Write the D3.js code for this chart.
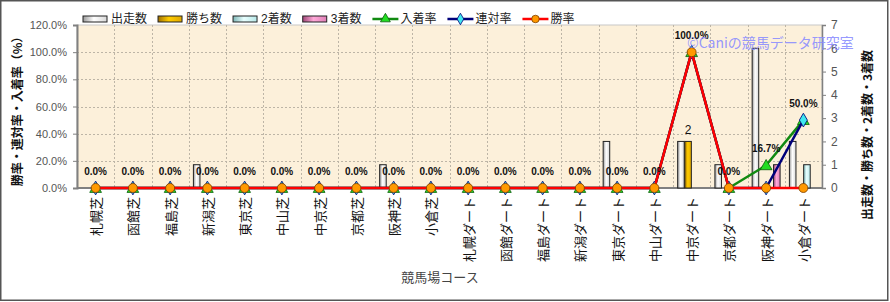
<!DOCTYPE html>
<html>
<head>
<meta charset="utf-8">
<script src="https://cdn.jsdelivr.net/npm/d3@7"></script>
<style>
  body { margin: 0; background: #fff; }
  text { font-family: "Liberation Sans", "Noto Sans CJK JP", sans-serif; }
  .jp { font-family: "Noto Sans CJK JP", sans-serif; }
</style>
</head>
<body>
<svg id="chart" width="890" height="302"></svg>
<script>
const categories = ['札幌芝', '函館芝', '福島芝', '新潟芝', '東京芝', '中山芝', '中京芝', '京都芝', '阪神芝', '小倉芝',
  '札幌ダート', '函館ダート', '福島ダート', '新潟ダート', '東京ダート', '中山ダート', '中京ダート', '京都ダート', '阪神ダート', '小倉ダート'];
const runs    = [0, 0, 0, 1, 0, 0, 0, 0, 1, 0, 0, 0, 0, 0, 2, 0, 2, 1, 6, 2];
const wins    = [0, 0, 0, 0, 0, 0, 0, 0, 0, 0, 0, 0, 0, 0, 0, 0, 2, 0, 0, 0];
const seconds = [0, 0, 0, 0, 0, 0, 0, 0, 0, 0, 0, 0, 0, 0, 0, 0, 0, 0, 0, 1];
const thirds  = [0, 0, 0, 0, 0, 0, 0, 0, 0, 0, 0, 0, 0, 0, 0, 0, 0, 0, 1, 0];
const placeRate   = [0, 0, 0, 0, 0, 0, 0, 0, 0, 0, 0, 0, 0, 0, 0, 0, 1.0, 0, 0.167, 0.5];
const rentaiRate  = [0, 0, 0, 0, 0, 0, 0, 0, 0, 0, 0, 0, 0, 0, 0, 0, 1.0, 0, 0, 0.5];
const winRate     = [0, 0, 0, 0, 0, 0, 0, 0, 0, 0, 0, 0, 0, 0, 0, 0, 1.0, 0, 0, 0];
const leftTicks = [0, 0.2, 0.4, 0.6, 0.8, 1.0, 1.2];
const rightTicks = [0, 1, 2, 3, 4, 5, 6, 7];

const barSeries = [
  {name: '出走数', values: runs, grad: 'gRun'},
  {name: '勝ち数', values: wins, grad: 'gWin'},
  {name: '2着数', values: seconds, grad: 'gSecond'},
  {name: '3着数', values: thirds, grad: 'gThird'},
];
const lineSeries = [
  {name: '入着率', values: placeRate, stroke: '#118a11', fill: '#22dd22', mark: d3.symbolTriangle, size: 60, mstroke: '#0a5a0a'},
  {name: '連対率', values: rentaiRate, stroke: '#00007a', fill: '#40e8f0', mark: d3.symbolDiamond, size: 55, mstroke: '#00007a'},
  {name: '勝率', values: winRate, stroke: '#ff0000', fill: '#ff9900', mark: d3.symbolCircle, size: 64, mstroke: '#7a3d00'},
];

const width = 890, height = 302;
const margin = {top: 25, right: 68, bottom: 114, left: 77};
const svg = d3.select('#chart');

const defs = svg.append('defs');
function grad(id, stops) {
  const g = defs.append('linearGradient').attr('id', id).attr('x1', '0%').attr('x2', '100%').attr('y1', '0%').attr('y2', '0%');
  stops.forEach(([o, c]) => g.append('stop').attr('offset', o).attr('stop-color', c));
}
grad('gRun', [['0%', '#9a9a9a'], ['45%', '#ffffff'], ['100%', '#d8d8d8']]);
grad('gWin', [['0%', '#a07000'], ['45%', '#ffcc00'], ['100%', '#e0a800']]);
grad('gSecond', [['0%', '#7fb8b8'], ['45%', '#e8ffff'], ['100%', '#b8e8e8']]);
grad('gThird', [['0%', '#a04878'], ['45%', '#ffa8d8'], ['100%', '#e080b8']]);

const x0 = d3.scaleBand()
  .domain(categories)
  .range([margin.left, width - margin.right])
  .paddingInner(0.25)
  .paddingOuter(0.125);
const step = x0.step();
const cx = c => x0(c) + x0.bandwidth() / 2;
const x1 = d3.scaleBand()
  .domain(barSeries.map(d => d.name))
  .range([0, x0.bandwidth()])
  .paddingInner(0.08);

const yL = d3.scaleLinear().domain([0, 1.2]).range([height - margin.bottom, margin.top]);
const yR = d3.scaleLinear().domain([0, 7]).range([height - margin.bottom, margin.top]);
const plotW = width - margin.left - margin.right;
const plotB = height - margin.bottom;

// outer frame
svg.append('rect').attr('x', 0.75).attr('y', 0.75).attr('width', 887).attr('height', 299.5)
  .attr('fill', '#fff').attr('stroke', '#555').attr('stroke-width', 1.5);

// plot background
svg.append('rect').attr('x', margin.left).attr('y', margin.top)
  .attr('width', plotW).attr('height', plotB - margin.top)
  .attr('fill', '#fcf0da').attr('stroke', '#c8c8c8');

// grid
const grid = svg.append('g').attr('stroke', '#bdb5a6').attr('stroke-dasharray', '2,2').attr('stroke-width', 1);
grid.selectAll('line.h').data(leftTicks.slice(1, -1)).join('line')
  .attr('x1', margin.left).attr('x2', width - margin.right)
  .attr('y1', d => Math.round(yL(d)) + 0.5).attr('y2', d => Math.round(yL(d)) + 0.5);
grid.selectAll('line.v').data(categories.slice(1)).join('line')
  .attr('x1', d => Math.round(x0(d) - step * 0.125) + 0.5).attr('x2', d => Math.round(x0(d) - step * 0.125) + 0.5)
  .attr('y1', margin.top).attr('y2', plotB);

// left axis
const axL = svg.append('g').attr('transform', `translate(${margin.left},0)`)
  .call(d3.axisLeft(yL).tickValues(leftTicks).tickFormat(d3.format('.1%')).tickSize(4));
axL.select('.domain').attr('stroke', '#808080').attr('stroke-width', 2);
axL.selectAll('.tick line').attr('stroke', '#808080');
axL.selectAll('.tick text').attr('font-size', 11).attr('fill', '#555').attr('x', -10);

// right axis
const axR = svg.append('g').attr('transform', `translate(${width - margin.right},0)`)
  .call(d3.axisRight(yR).tickValues(rightTicks).tickFormat(d3.format('d')).tickSize(4));
axR.select('.domain').attr('stroke', '#808080').attr('stroke-width', 1.5);
axR.selectAll('.tick line').attr('stroke', '#808080');
axR.selectAll('.tick text').attr('font-size', 12).attr('fill', '#555').attr('x', 9);

// bottom axis line
svg.append('line').attr('x1', margin.left).attr('x2', width - margin.right)
  .attr('y1', plotB).attr('y2', plotB).attr('stroke', '#808080').attr('stroke-width', 2);

// category labels
svg.append('g').selectAll('text').data(categories).join('text')
  .attr('class', 'jp')
  .attr('transform', d => `translate(${cx(d)},${plotB + 9}) rotate(-90)`)
  .attr('text-anchor', 'end')
  .attr('dominant-baseline', 'central')
  .attr('font-size', 13)
  .attr('fill', '#111')
  .text(d => d);

// bars
const bars = svg.append('g');
barSeries.forEach(s => {
  bars.append('g').selectAll('rect')
    .data(categories.map((c, i) => ({c, v: s.values[i]})).filter(d => d.v > 0))
    .join('rect')
    .attr('x', d => x0(d.c) + x1(s.name))
    .attr('y', d => yR(d.v))
    .attr('width', x1.bandwidth())
    .attr('height', d => yR(0) - yR(d.v))
    .attr('fill', `url(#${s.grad})`)
    .attr('stroke', '#222')
    .attr('stroke-width', 1);
});

// win count label
svg.append('g').selectAll('text')
  .data(categories.map((c, i) => ({c, v: wins[i]})).filter(d => d.v > 0))
  .join('text')
  .attr('x', d => x0(d.c) + x1('勝ち数') + x1.bandwidth() / 2)
  .attr('y', d => yR(d.v) - 7)
  .attr('text-anchor', 'middle')
  .attr('font-size', 12)
  .attr('fill', '#111')
  .text(d => d.v);

// lines and markers
lineSeries.forEach(s => {
  const pts = categories.map((c, i) => [cx(c), yL(s.values[i])]);
  svg.append('path')
    .attr('d', d3.line()(pts))
    .attr('fill', 'none')
    .attr('stroke', s.stroke)
    .attr('stroke-width', 2.5)
    .attr('stroke-linejoin', 'round');
  svg.append('g').selectAll('path').data(pts).join('path')
    .attr('transform', d => `translate(${d[0]},${d[1] + (s.mark === d3.symbolTriangle ? 1 : 0)})`)
    .attr('d', d3.symbol(s.mark, s.size))
    .attr('fill', s.fill)
    .attr('stroke', s.mstroke)
    .attr('stroke-width', 0.8);
});

// place rate labels
svg.append('g').selectAll('text').data(categories).join('text')
  .attr('x', d => cx(d))
  .attr('y', (d, i) => yL(placeRate[i]) - 13)
  .attr('text-anchor', 'middle')
  .attr('font-size', 10)
  .attr('font-weight', 'bold')
  .attr('fill', '#111')
  .text((d, i) => d3.format('.1%')(placeRate[i]));

// watermark
svg.append('text').attr('class', 'jp')
  .attr('x', 687).attr('y', 48)
  .attr('font-size', 14)
  .attr('fill', '#8a8cff')
  .attr('fill-opacity', 0.9)
  .text('©Caniの競馬データ研究室');

// axis titles
svg.append('text').attr('class', 'jp')
  .attr('transform', `translate(16,${(margin.top + plotB) / 2 + 2}) rotate(-90)`)
  .attr('text-anchor', 'middle').attr('dominant-baseline', 'central')
  .attr('font-size', 12).attr('font-weight', 'bold').attr('fill', '#111')
  .text('勝率・連対率・入着率（%）');
svg.append('text').attr('class', 'jp')
  .attr('transform', `translate(866,135) rotate(-90)`)
  .attr('text-anchor', 'middle').attr('dominant-baseline', 'central')
  .attr('font-size', 12).attr('font-weight', 'bold').attr('fill', '#111')
  .text('出走数・勝ち数・2着数・3着数');
svg.append('text').attr('class', 'jp')
  .attr('x', 440).attr('y', 282)
  .attr('text-anchor', 'middle')
  .attr('font-size', 13).attr('fill', '#444')
  .text('競馬場コース');

// legend
const legend = svg.append('g').attr('class', 'jp');
let lx = 83;
const ly = 19;
const legendItems = [
  ...barSeries.map(s => ({name: s.name, bar: s})),
  ...lineSeries.map(s => ({name: s.name, line: s})),
];
legendItems.forEach(item => {
  if (item.bar) {
    legend.append('rect').attr('x', lx).attr('y', ly - 3).attr('width', 24).attr('height', 6)
      .attr('fill', `url(#${item.bar.grad})`).attr('stroke', '#222');
  } else {
    const s = item.line;
    legend.append('line').attr('x1', lx).attr('x2', lx + 26).attr('y1', ly).attr('y2', ly)
      .attr('stroke', s.stroke).attr('stroke-width', 2.5);
    legend.append('path').attr('transform', `translate(${lx + 13},${ly})`)
      .attr('d', d3.symbol(s.mark, s.size * 0.7))
      .attr('fill', s.fill).attr('stroke', s.mstroke).attr('stroke-width', 0.8);
  }
  const t = legend.append('text').attr('x', lx + 28).attr('y', ly)
    .attr('dominant-baseline', 'central')
    .attr('font-size', 12).attr('fill', '#222')
    .text(item.name);
  lx += 28 + t.node().getComputedTextLength() + 11;
});
</script>
</body>
</html>
